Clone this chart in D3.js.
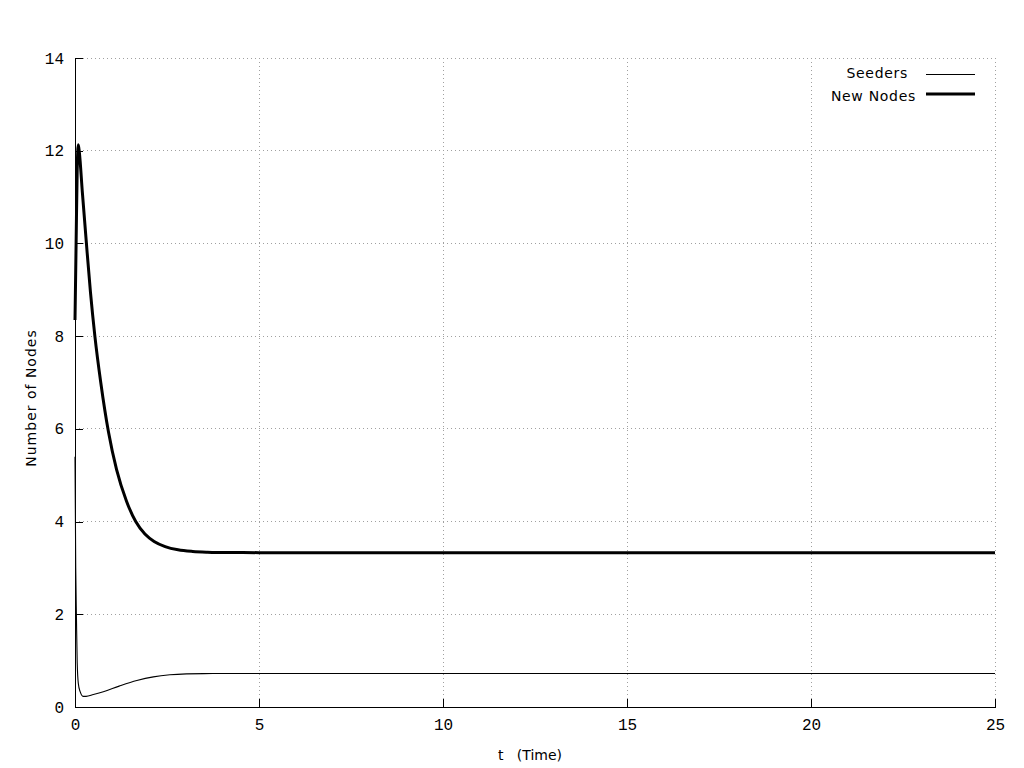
<!DOCTYPE html>
<html>
<head>
<meta charset="utf-8">
<script src="https://cdn.jsdelivr.net/npm/d3@7"></script>
<style>
  html, body { margin: 0; padding: 0; background: #fff; }
  svg { display: block; }
</style>
</head>
<body>
<svg id="chart" width="1024" height="768"></svg>
<script>
// ---- data ----
const xTicks = [0, 5, 10, 15, 20, 25];
const yTicks = [0, 2, 4, 6, 8, 10, 12, 14];
const seriesNames = ["Seeders", "New Nodes"];

const newNodesT = [0, 0.03, 0.06, 0.09, 0.12, 0.20, 0.31, 0.42, 0.54, 0.70, 0.91, 1.13, 1.40, 1.65, 1.90, 2.15, 2.45, 2.80, 3.2, 3.6, 4.2, 5.0, 10, 15, 20, 25];
const newNodesV = [8.35, 10.0, 11.6, 12.13, 11.95, 11.1, 10.0, 8.95, 8.0, 7.0, 5.93, 5.12, 4.44, 4.0, 3.73, 3.57, 3.46, 3.39, 3.355, 3.34, 3.332, 3.33, 3.33, 3.33, 3.33, 3.33];

const seedersT = [0, 0.02, 0.04, 0.06, 0.09, 0.14, 0.22, 0.30, 0.50, 0.77, 1.2, 1.68, 2.13, 2.58, 3.03, 3.5, 4.0, 5.0, 10, 15, 20, 25];
const seedersV = [5.4, 3.0, 1.9, 0.95, 0.51, 0.33, 0.23, 0.23, 0.27, 0.33, 0.45, 0.57, 0.65, 0.695, 0.715, 0.721, 0.722, 0.722, 0.722, 0.722, 0.722, 0.722];

// ---- layout ----
const svg = d3.select("#chart");
const L = 75, R = 995, T = 58, B = 707;
const x = d3.scaleLinear().domain([0, 25]).range([L, R]);
const y = d3.scaleLinear().domain([0, 14]).range([B, T]);

// grid
const grid = svg.append("g");
grid.selectAll("line.gy").data(yTicks.filter(d => d > 0)).enter().append("line")
  .attr("x1", L).attr("x2", R)
  .attr("y1", d => y(d)).attr("y2", d => y(d))
  .attr("stroke", "#a0a0a0").attr("stroke-width", 1).attr("stroke-dasharray", "1,3")
  .attr("shape-rendering", "crispEdges");
grid.selectAll("line.gx").data(xTicks.filter(d => d > 0)).enter().append("line")
  .attr("x1", d => x(d)).attr("x2", d => x(d))
  .attr("y1", T).attr("y2", B)
  .attr("stroke", "#a0a0a0").attr("stroke-width", 1).attr("stroke-dasharray", "1,3")
  .attr("shape-rendering", "crispEdges");

// axes
const xAxis = d3.axisBottom(x).tickValues(xTicks).tickSizeInner(-8).tickSizeOuter(0).tickPadding(18);
const yAxis = d3.axisLeft(y).tickValues(yTicks).tickSizeInner(-8).tickSizeOuter(0).tickPadding(11);

const gx = svg.append("g").attr("transform", `translate(0,${B})`).call(xAxis);
const gy = svg.append("g").attr("transform", `translate(${L},0)`).call(yAxis);
[gx, gy].forEach(g => {
  g.select(".domain").attr("stroke", "#000").attr("shape-rendering", "crispEdges");
  g.selectAll(".tick line").attr("stroke", "#000").attr("shape-rendering", "crispEdges");
  g.selectAll(".tick text").attr("fill", "#000")
    .style("font-family", "'Liberation Mono', 'DejaVu Sans Mono', monospace")
    .style("font-size", "16px");
});
gx.selectAll(".tick text").attr("dy", "0.32em");

// lines
const line = d3.line().x(d => x(d[0])).y(d => y(d[1])).curve(d3.curveMonotoneX);
const seeders = seedersT.map((t, i) => [t, seedersV[i]]);
const newNodes = newNodesT.map((t, i) => [t, newNodesV[i]]);

svg.append("path").datum(seeders).attr("d", line)
  .attr("fill", "none").attr("stroke", "#000").attr("stroke-width", 1.1);
svg.append("path").datum(newNodes).attr("d", line)
  .attr("fill", "none").attr("stroke", "#000").attr("stroke-width", 3)
  .attr("stroke-linejoin", "round");

// axis titles
const sans = "'DejaVu Sans', sans-serif";
svg.append("text").attr("x", 530).attr("y", 760)
  .attr("text-anchor", "middle").style("font-family", sans).style("font-size", "14px")
  .attr("xml:space", "preserve")
  .text("t   (Time)");
svg.append("text").attr("transform", "translate(36,398) rotate(-90)")
  .attr("text-anchor", "middle").style("font-family", sans).style("font-size", "14px")
  .style("letter-spacing", "1px")
  .text("Number of Nodes");

// legend
const legend = svg.append("g");
const legendWidths = [1, 3];
const legendTextEnd = [908, 916];
const legendLineY = [74.5, 94];
seriesNames.forEach((name, i) => {
  const yy = 73 + i * 23;
  legend.append("text").attr("x", legendTextEnd[i]).attr("y", yy).attr("dy", "0.35em")
    .attr("text-anchor", "end").style("font-family", sans).style("font-size", "14px")
    .style("letter-spacing", "0.7px")
    .text(name);
  legend.append("line").attr("x1", 926).attr("x2", 975).attr("y1", legendLineY[i]).attr("y2", legendLineY[i])
    .attr("stroke", "#000").attr("stroke-width", legendWidths[i]);
});
</script>
</body>
</html>
